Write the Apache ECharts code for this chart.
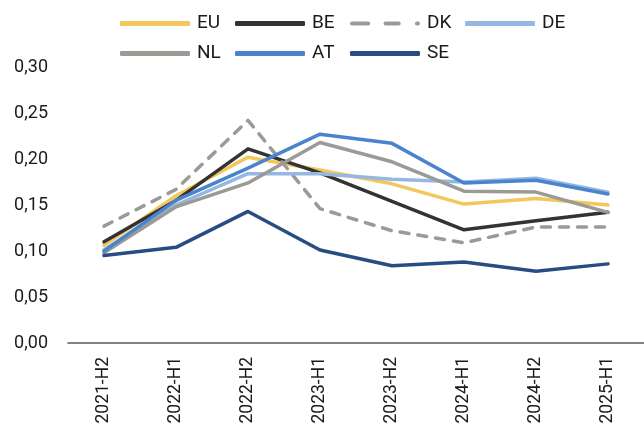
<!DOCTYPE html>
<html><head><meta charset="utf-8">
<script src="https://cdn.jsdelivr.net/npm/echarts@6/dist/echarts.min.js"></script>
<style>html,body{margin:0;padding:0;background:#fff}#c{width:644px;height:433px}</style>
</head><body><div id="c"></div>
<script>
const categories = ['2021-H2','2022-H1','2022-H2','2023-H1','2023-H2','2024-H1','2024-H2','2025-H1'];
const EU = [0.106,0.160,0.202,0.188,0.173,0.151,0.157,0.150];
const BE = [0.110,0.155,0.211,0.185,0.154,0.123,0.133,0.142];
const DK = [0.127,0.167,0.242,0.146,0.122,0.109,0.126,0.126];
const DE = [0.101,0.150,0.184,0.184,0.178,0.175,0.179,0.164];
const NL = [0.098,0.148,0.174,0.218,0.197,0.165,0.164,0.142];
const AT = [0.100,0.155,0.190,0.227,0.217,0.174,0.177,0.162];
const SE = [0.095,0.104,0.143,0.101,0.084,0.088,0.078,0.086];

const defs = [
  ['EU', EU, '#F2C75C', 'solid'],
  ['BE', BE, '#333333', 'solid'],
  ['DK', DK, '#9B9B95', [9,9]],
  ['DE', DE, '#95B7E2', 'solid'],
  ['NL', NL, '#9B9B95', 'solid'],
  ['AT', AT, '#4A84CD', 'solid'],
  ['SE', SE, '#284D82', 'solid']
];
const dashIcon = 'path://M2,0 H18 A2,2 0 0 1 18,4 H2 A2,2 0 0 1 2,0 Z M35,0 H48 A2,2 0 0 1 48,4 H35 A2,2 0 0 1 35,0 Z M66,0 H67 A2,2 0 0 1 67,4 H66 A2,2 0 0 1 66,0 Z';
const font = 'Roboto, "DejaVu Sans", sans-serif';
const chart = echarts.init(document.getElementById('c'));
const colLeft = [115, 230, 345, 460];
const legends = defs.map((d, i) => ({
  orient: 'horizontal', itemWidth: 70, itemHeight: 5,
  left: colLeft[i % 4], top: i < 4 ? 9 : 39,
  textStyle: {fontFamily: font, fontSize: 19, color: '#1a1a1a', padding: [0,0,0,2]},
  data: [{name: d[0], icon: d[0] === 'DK' ? dashIcon : 'roundRect'}]
}));
chart.setOption({
  animation: false,
  legend: legends,
  grid: {left: 68, right: -13, top: 67, bottom: 90},
  xAxis: {
    type: 'category', data: categories, boundaryGap: true,
    axisLine: {lineStyle: {color: '#595959', width: 1.5}},
    axisTick: {show: false},
    axisLabel: {rotate: 90, fontFamily: font, fontSize: 17.5, color: '#1a1a1a', margin: 14}
  },
  yAxis: {
    type: 'value', min: 0, max: 0.3, interval: 0.05,
    axisLine: {show: false}, axisTick: {show: false}, splitLine: {show: false},
    axisLabel: {fontFamily: font, fontSize: 18, color: '#1a1a1a', margin: 20,
      formatter: v => v.toFixed(2).replace('.', ',')}
  },
  series: defs.map(d => ({
    name: d[0], type: 'line', data: d[1], symbol: 'none',
    lineStyle: {color: d[2], width: 3.5, type: d[3], cap: 'round', join: 'round'},
    itemStyle: {color: d[2]}
  }))
});
</script></body></html>
